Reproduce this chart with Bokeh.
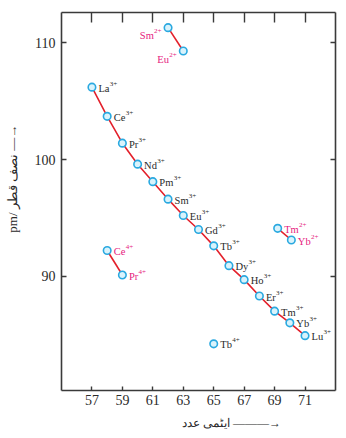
from bokeh.plotting import figure
from bokeh.models import ColumnDataSource, LinearAxis, FixedTicker, Range1d
from bokeh.core.properties import value
from bokeh.embed import file_html
from bokeh.resources import INLINE

# Ln(3+) ions: atomic number and ionic radius (pm)
ln3_symbols = ["La", "Ce", "Pr", "Nd", "Pm", "Sm", "Eu", "Gd", "Tb", "Dy",
               "Ho", "Er", "Tm", "Yb", "Lu"]
ln3_z = [57, 58, 59, 60, 61, 62, 63, 64, 65, 66, 67, 68, 69, 70, 71]
ln3_radius = [106.2, 103.7, 101.4, 99.6, 98.1, 96.6, 95.2, 94.0, 92.6, 90.9,
              89.7, 88.3, 87.0, 86.0, 84.9]

# Ln(2+) ions
ln2a_symbols = ["Sm", "Eu"]
ln2a_z = [62, 63]
ln2a_radius = [111.3, 109.3]

ln2b_symbols = ["Tm", "Yb"]
ln2b_z = [69.2, 70.1]
ln2b_radius = [94.1, 93.1]

# Ln(4+) ions
ln4a_symbols = ["Ce", "Pr"]
ln4a_z = [58, 59]
ln4a_radius = [92.2, 90.1]

ln4b_symbols = ["Tb"]
ln4b_z = [65]
ln4b_radius = [84.2]

x_ticks = [57, 59, 61, 63, 65, 67, 69, 71]
y_ticks = [90, 100, 110]

x_title = "ایٹمی عدد"
y_title = "pm/ نصف قطر"

BLACK = "#2a2a2a"
PINK = "#e6197e"
RED = "#e3202b"
RING = "#2aa9e0"
FILL = "#d9f3fc"
SERIF = "Liberation Serif"
MAIN_PX = 10.5
SUP_PX = 7.0
EMSP = "\u2003"
ENSP = "\u2002"

# Times-style advance widths (per 1000 em) used to place superscripts
ADV = {"L": 611, "a": 444, "C": 667, "e": 444, "P": 556, "r": 333, "N": 722,
       "d": 500, "m": 778, "S": 556, "E": 611, "u": 500, "G": 722, "T": 611,
       "b": 500, "D": 722, "y": 500, "H": 722, "o": 500, "Y": 722,
       "2": 500, "3": 500, "4": 500, "+": 564}


def width(s, px):
    return sum(ADV.get(c, 500) for c in s) / 1000.0 * px


groups = [
    (ln3_symbols, ln3_z, ln3_radius, "3+", BLACK, "right"),
    (ln2a_symbols, ln2a_z, ln2a_radius, "2+", PINK, "left"),
    (ln2b_symbols, ln2b_z, ln2b_radius, "2+", PINK, "right"),
    (ln4a_symbols, ln4a_z, ln4a_radius, "4+", PINK, "right"),
    (ln4b_symbols, ln4b_z, ln4b_radius, "4+", BLACK, "right"),
]

p = figure(width=346, height=438, output_backend="svg", toolbar_location=None,
           x_range=Range1d(55, 73), y_range=Range1d(80.2, 112.6),
           min_border_left=61, min_border_right=11, min_border_top=12,
           min_border_bottom=48, x_axis_location=None, y_axis_location=None)
p.grid.visible = False
p.outline_line_color = None
p.background_fill_color = "white"
p.border_fill_color = "white"


def style_axis(ax, tick_in, labels):
    ax.axis_line_color = "#3a3a3a"
    ax.axis_line_width = 1.6
    ax.major_tick_line_color = "#3a3a3a"
    ax.major_tick_line_width = 1.4
    ax.major_tick_in = tick_in
    ax.major_tick_out = 0
    ax.minor_tick_line_color = None
    ax.major_label_text_font = SERIF
    ax.major_label_text_color = BLACK
    ax.major_label_text_font_size = "14px"
    if not labels:
        ax.major_label_overrides = {t: "" for t in ax.ticker.ticks}
        ax.major_label_standoff = 0


bottom = LinearAxis(ticker=FixedTicker(ticks=x_ticks))
style_axis(bottom, 4, True)
bottom.major_label_standoff = 4
bottom.axis_label = EMSP * 5 + ENSP + x_title + " ———→"
bottom.axis_label_text_font = SERIF
bottom.axis_label_text_font_size = "12px"
bottom.axis_label_text_font_style = "normal"
bottom.axis_label_text_color = BLACK
bottom.axis_label_standoff = 8

top = LinearAxis(ticker=FixedTicker(ticks=x_ticks))
style_axis(top, 10, False)

left = LinearAxis(ticker=FixedTicker(ticks=y_ticks))
style_axis(left, 5, True)
left.major_label_standoff = 6
left.axis_label = EMSP * 3 + ENSP + y_title + " —→"
left.axis_label_text_font = SERIF
left.axis_label_text_font_size = "13px"
left.axis_label_text_font_style = "normal"
left.axis_label_text_color = BLACK
left.axis_label_standoff = 12

right = LinearAxis(ticker=FixedTicker(ticks=y_ticks))
style_axis(right, 5, False)

p.add_layout(bottom, "below")
p.add_layout(top, "above")
p.add_layout(left, "left")
p.add_layout(right, "right")

# connecting lines and markers
for syms, zs, rs, charge, color, side in groups:
    if len(zs) > 1:
        p.line(zs, rs, line_color=RED, line_width=1.6)

for syms, zs, rs, charge, color, side in groups:
    p.scatter(zs, rs, marker="circle", size=7.5, fill_color=FILL,
              line_color=RING, line_width=1.6)

# ion labels: element symbol plus superscript charge
for syms, zs, rs, charge, color, side in groups:
    main = dict(x=[], y=[], t=[], dx=[], dy=[])
    sup = dict(x=[], y=[], t=[], dx=[], dy=[])
    for s, z, r in zip(syms, zs, rs):
        wm = width(s, MAIN_PX)
        ws = width(charge, SUP_PX)
        main["x"].append(z); main["y"].append(r); main["t"].append(s)
        sup["x"].append(z); sup["y"].append(r); sup["t"].append(charge)
        if side == "right":
            main["dx"].append(6.5); main["dy"].append(1.0)
            sup["dx"].append(6.5 + wm + 0.3); sup["dy"].append(-3.5)
        else:
            main["dx"].append(-6.5 - ws - wm - 0.3); main["dy"].append(8.0)
            sup["dx"].append(-6.5 - ws); sup["dy"].append(3.5)
    p.text(x="x", y="y", text="t", x_offset="dx", y_offset="dy",
           source=ColumnDataSource(main), text_font=value(SERIF),
           text_font_size=f"{MAIN_PX}px", text_color=color,
           text_align="left", text_baseline="alphabetic")
    p.text(x="x", y="y", text="t", x_offset="dx", y_offset="dy",
           source=ColumnDataSource(sup), text_font=value(SERIF),
           text_font_size=f"{SUP_PX}px", text_color=color,
           text_align="left", text_baseline="alphabetic")

open("out.html", "w").write(file_html(p, INLINE))
